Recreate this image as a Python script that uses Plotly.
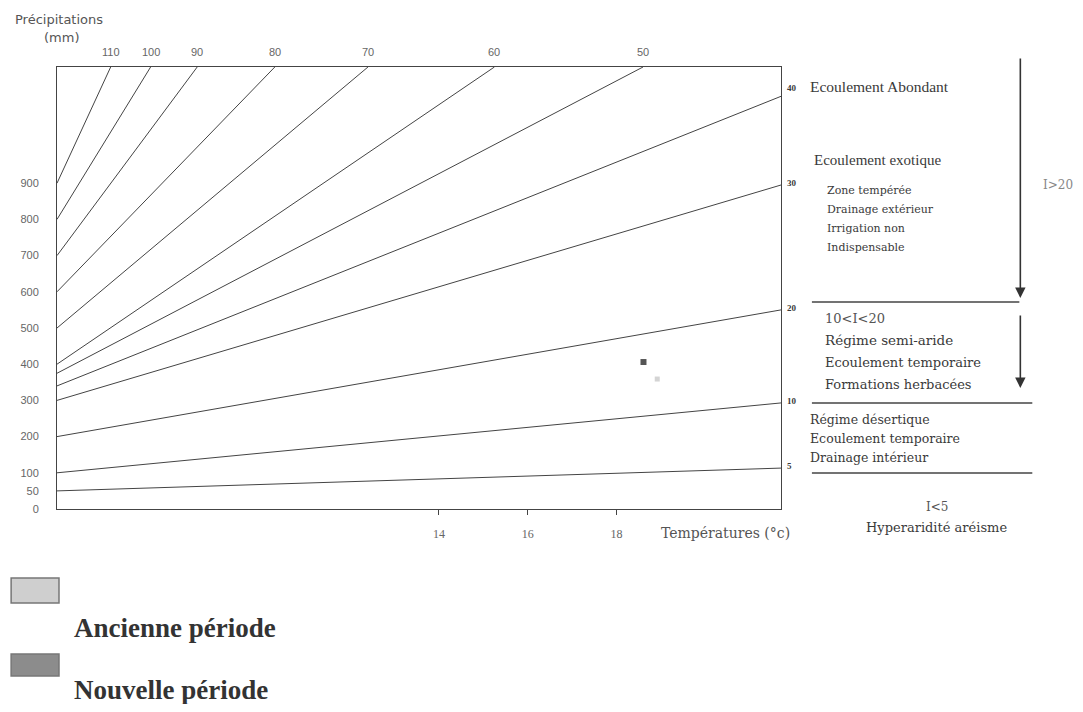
import plotly.graph_objects as go

# ---------------- data ----------------
# Iso-index lines (De Martonne) ending on the top edge
index_top = [110, 100, 90, 80, 70, 60, 50]
p_left_top = [900, 800, 700, 600, 500, 400, 375]        # precipitation at left edge (mm)
t_top = [6.6, 7.5, 8.55, 10.3, 12.4, 15.25, 18.6]        # temperature where line meets top (°C)

# Iso-index lines ending on the right edge
index_right = [40, 30, 20, 10, 5]
p_left_right = [340, 300, 200, 100, 50]                 # precipitation at left edge (mm)
p_right = [1140, 895, 550, 293, 113]                    # precipitation at right edge (mm)

precip_ticks = [0, 50, 100, 200, 300, 400, 500, 600, 700, 800, 900]
temp_ticks = [14, 16, 18]

period_names = ["Ancienne période", "Nouvelle période"]
period_T = [18.92, 18.61]
period_P = [359, 406]
period_colors = ["#d4d4d4", "#555555"]
period_sizes = [5, 6]

T_MIN, T_MAX = 5.39, 21.71
P_MAX = 1221

# ---------------- layout helpers ----------------
OFF = 8                       # page body margin
W, H = 1083 - 2 * OFF, 712 - 2 * OFF
L, R, T, B = 55, 781, 67, 509  # plot area in page pixels


def PX(px):
    return (px - L) / (R - L)


def PY(py):
    return (B - py) / (B - T)


SERIF = "Liberation Serif"
WSERIF = "DejaVu Serif"
SANS = "DejaVu Sans"
LINE_C = "#444444"
TXT = "#3a3a3a"

fig = go.Figure()

for i, tt, pl in zip(index_top, t_top, p_left_top):
    fig.add_trace(go.Scatter(x=[T_MIN, tt], y=[pl, P_MAX], mode="lines",
                             line=dict(color=LINE_C, width=1), showlegend=False,
                             hoverinfo="skip", name=f"I={i}"))
for i, pl, pr in zip(index_right, p_left_right, p_right):
    fig.add_trace(go.Scatter(x=[T_MIN, T_MAX], y=[pl, pr], mode="lines",
                             line=dict(color=LINE_C, width=1), showlegend=False,
                             hoverinfo="skip", name=f"I={i}"))

for n, tx, py, c, s in zip(period_names, period_T, period_P, period_colors, period_sizes):
    fig.add_trace(go.Scatter(x=[tx], y=[py], mode="markers", name=n,
                             marker=dict(color=c, size=s, symbol="square"),
                             showlegend=False))

ann = []
# top labels (index values)
for i, tt in zip(index_top, t_top):
    ann.append(dict(x=tt, y=1, xref="x", yref="paper", text=str(i), showarrow=False,
                    yanchor="middle", yshift=15,
                    font=dict(family="Liberation Sans", size=11, color="#666")))
# right edge labels
for i, pr in zip(index_right, p_right):
    ann.append(dict(x=1, y=pr, xref="paper", yref="y", text=f"<b>{i}</b>", showarrow=False,
                    xanchor="left", yanchor="middle", xshift=4, yshift=8 if i == 40 else 2,
                    font=dict(family=SERIF, size=9, color=TXT)))


def txt(px, py, s, size=13, anchor="left", family=WSERIF, color=TXT):
    ann.append(dict(x=PX(px), y=PY(py), xref="paper", yref="paper", text=s,
                    showarrow=False, xanchor=anchor, yanchor="middle",
                    font=dict(family=family, size=size, color=color)))


txt(11, 20, "Précipitations", 13, family=SANS, color="#555")
txt(40, 37, "(mm)", 13, family=SANS, color="#555")
txt(659, 533, "Températures (°c)", 14, color="#555")

txt(808, 87, "Ecoulement Abondant", 15.5, family=SERIF)
txt(812, 160, "Ecoulement exotique", 15, family=SERIF)
txt(825, 190, "Zone tempérée", 11)
txt(825, 209, "Drainage extérieur", 11)
txt(825, 228, "Irrigation non", 11)
txt(825, 247, "Indispensable", 11)
txt(823, 318, "10&lt;I&lt;20", 13, color="#555")
txt(823, 340, "Régime semi-aride", 13.5)
txt(823, 362, "Ecoulement temporaire", 13)
txt(823, 384, "Formations herbacées", 13)
txt(808, 419, "Régime désertique", 12.5)
txt(808, 438, "Ecoulement temporaire", 12.5)
txt(808, 457, "Drainage intérieur", 12.5)
txt(937, 507, "I&lt;5", 12, anchor="center", color="#555")
txt(937, 527, "Hyperaridité aréisme", 13, anchor="center")
txt(1042, 185, "I&gt;20", 12, color="#888")

txt(70, 628, "<b>Ancienne période</b>", 27, family=SERIF, color="#333")
txt(70, 690, "<b>Nouvelle période</b>", 27, family=SERIF, color="#333")

# arrows (tip position in paper coords, tail offset in pixels)
for tip, tail in [(298, 57), (388, 314)]:
    ann.append(dict(x=PX(1021), y=PY(tip), xref="paper", yref="paper",
                    ax=0, ay=-(tip - tail), axref="pixel", ayref="pixel",
                    showarrow=True, arrowhead=2, arrowsize=1.3,
                    arrowwidth=1.6, arrowcolor="#333", text=""))

shapes = []
for y0, x0, x1 in [(302, 812, 1020), (403, 812, 1033), (473, 812, 1033)]:
    shapes.append(dict(type="line", xref="paper", yref="paper", x0=PX(x0), x1=PX(x1),
                       y0=PY(y0), y1=PY(y0), line=dict(color="#444", width=1.3)))
# legend boxes
for (y0, y1), col in zip([(578, 603), (654, 676)], ["#cfcfcf", "#8c8c8c"]):
    shapes.append(dict(type="rect", xref="paper", yref="paper", x0=PX(9), x1=PX(57),
                       y0=PY(y1), y1=PY(y0), fillcolor=col, line=dict(color="#777", width=1.5)))

fig.update_layout(
    width=W, height=H,
    margin=dict(l=L - OFF, r=W - (R - OFF), t=T - OFF, b=H - (B - OFF), pad=0),
    paper_bgcolor="white", plot_bgcolor="white",
    showlegend=False,
    annotations=ann, shapes=shapes,
    xaxis=dict(range=[T_MIN, T_MAX], tickvals=temp_ticks, showgrid=False, zeroline=False,
               showline=True, mirror=True, linecolor="#444", linewidth=1,
               ticks="outside", ticklen=5, tickcolor="#444", ticklabelstandoff=9,
               tickfont=dict(family=SERIF, size=12, color="#666")),
    yaxis=dict(range=[0, P_MAX], tickvals=precip_ticks, showgrid=False, zeroline=False,
               showline=True, mirror=True, linecolor="#444", linewidth=1,
               ticks="", ticklabelstandoff=15,
               tickfont=dict(family="Liberation Sans", size=11, color="#666")),
)

fig.write_html("out.html")
